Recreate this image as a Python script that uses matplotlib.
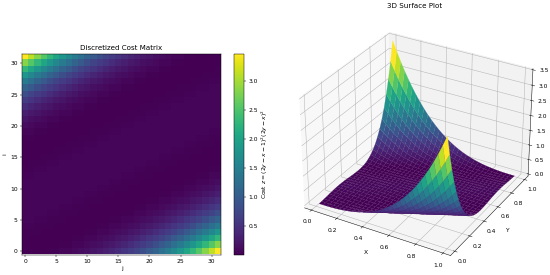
#!/usr/bin/env python3
import numpy as np
import matplotlib
matplotlib.use('Agg')
import matplotlib.pyplot as plt
from mpl_toolkits.mplot3d import Axes3D  # noqa: F401

# cost matrix read cell by cell, row 0 is the bottom row of the heatmap
cost_rows = [
    [0,0,.002,.007,.015,.026,.041,.060,.084,.113,.148,.190,.239,.295,.360,.434,.517,.611,.716,.832,.962,1.105,1.262,1.434,1.622,1.827,2.050,2.292,2.553,2.835,3.139,3.466],
    [.005,.002,0,0,.002,.007,.015,.026,.041,.060,.084,.113,.148,.190,.239,.295,.360,.434,.517,.611,.716,.832,.962,1.105,1.262,1.434,1.622,1.827,2.050,2.292,2.553,2.835],
    [.015,.009,.005,.002,0,0,.002,.007,.015,.026,.041,.060,.084,.113,.148,.190,.239,.295,.360,.434,.517,.611,.716,.832,.962,1.105,1.262,1.434,1.622,1.827,2.050,2.292],
    [.026,.020,.015,.009,.005,.002,0,0,.002,.007,.015,.026,.041,.060,.084,.113,.148,.190,.239,.295,.360,.434,.517,.611,.716,.832,.962,1.105,1.262,1.434,1.622,1.827],
    [.038,.032,.026,.020,.015,.009,.005,.002,0,0,.002,.007,.015,.026,.041,.060,.084,.113,.148,.190,.239,.295,.360,.434,.517,.611,.716,.832,.962,1.105,1.262,1.434],
    [.049,.044,.038,.032,.026,.020,.015,.009,.005,.002,0,0,.002,.007,.015,.026,.041,.060,.084,.113,.148,.190,.239,.295,.360,.434,.517,.611,.716,.832,.962,1.105],
    [.057,.053,.049,.044,.038,.032,.026,.020,.015,.009,.005,.002,0,0,.002,.007,.015,.026,.041,.060,.084,.113,.148,.190,.239,.295,.360,.434,.517,.611,.716,.832],
    [.061,.059,.057,.053,.049,.044,.038,.032,.026,.020,.015,.009,.005,.002,0,0,.002,.007,.015,.026,.041,.060,.084,.113,.148,.190,.239,.295,.360,.434,.517,.611],
    [.062,.062,.061,.059,.057,.053,.049,.044,.038,.032,.026,.020,.015,.009,.005,.002,0,0,.002,.007,.015,.026,.041,.060,.084,.113,.148,.190,.239,.295,.360,.434],
    [.059,.061,.062,.062,.061,.059,.057,.053,.049,.044,.038,.032,.026,.020,.015,.009,.005,.002,0,0,.002,.007,.015,.026,.041,.060,.084,.113,.148,.190,.239,.295],
    [.053,.057,.059,.061,.062,.062,.061,.059,.057,.053,.049,.044,.038,.032,.026,.020,.015,.009,.005,.002,0,0,.002,.007,.015,.026,.041,.060,.084,.113,.148,.190],
    [.044,.049,.053,.057,.059,.061,.062,.062,.061,.059,.057,.053,.049,.044,.038,.032,.026,.020,.015,.009,.005,.002,0,0,.002,.007,.015,.026,.041,.060,.084,.113],
    [.032,.038,.044,.049,.053,.057,.059,.061,.062,.062,.061,.059,.057,.053,.049,.044,.038,.032,.026,.020,.015,.009,.005,.002,0,0,.002,.007,.015,.026,.041,.060],
    [.020,.026,.032,.038,.044,.049,.053,.057,.059,.061,.062,.062,.061,.059,.057,.053,.049,.044,.038,.032,.026,.020,.015,.009,.005,.002,0,0,.002,.007,.015,.026],
    [.009,.015,.020,.026,.032,.038,.044,.049,.053,.057,.059,.061,.062,.062,.061,.059,.057,.053,.049,.044,.038,.032,.026,.020,.015,.009,.005,.002,0,0,.002,.007],
    [.002,.005,.009,.015,.020,.026,.032,.038,.044,.049,.053,.057,.059,.061,.062,.062,.061,.059,.057,.053,.049,.044,.038,.032,.026,.020,.015,.009,.005,.002,0,0],
    [0,0,.002,.005,.009,.015,.020,.026,.032,.038,.044,.049,.053,.057,.059,.061,.062,.062,.061,.059,.057,.053,.049,.044,.038,.032,.026,.020,.015,.009,.005,.002],
    [.007,.002,0,0,.002,.005,.009,.015,.020,.026,.032,.038,.044,.049,.053,.057,.059,.061,.062,.062,.061,.059,.057,.053,.049,.044,.038,.032,.026,.020,.015,.009],
    [.026,.015,.007,.002,0,0,.002,.005,.009,.015,.020,.026,.032,.038,.044,.049,.053,.057,.059,.061,.062,.062,.061,.059,.057,.053,.049,.044,.038,.032,.026,.020],
    [.060,.041,.026,.015,.007,.002,0,0,.002,.005,.009,.015,.020,.026,.032,.038,.044,.049,.053,.057,.059,.061,.062,.062,.061,.059,.057,.053,.049,.044,.038,.032],
    [.113,.084,.060,.041,.026,.015,.007,.002,0,0,.002,.005,.009,.015,.020,.026,.032,.038,.044,.049,.053,.057,.059,.061,.062,.062,.061,.059,.057,.053,.049,.044],
    [.190,.148,.113,.084,.060,.041,.026,.015,.007,.002,0,0,.002,.005,.009,.015,.020,.026,.032,.038,.044,.049,.053,.057,.059,.061,.062,.062,.061,.059,.057,.053],
    [.295,.239,.190,.148,.113,.084,.060,.041,.026,.015,.007,.002,0,0,.002,.005,.009,.015,.020,.026,.032,.038,.044,.049,.053,.057,.059,.061,.062,.062,.061,.059],
    [.434,.360,.295,.239,.190,.148,.113,.084,.060,.041,.026,.015,.007,.002,0,0,.002,.005,.009,.015,.020,.026,.032,.038,.044,.049,.053,.057,.059,.061,.062,.062],
    [.611,.517,.434,.360,.295,.239,.190,.148,.113,.084,.060,.041,.026,.015,.007,.002,0,0,.002,.005,.009,.015,.020,.026,.032,.038,.044,.049,.053,.057,.059,.061],
    [.832,.716,.611,.517,.434,.360,.295,.239,.190,.148,.113,.084,.060,.041,.026,.015,.007,.002,0,0,.002,.005,.009,.015,.020,.026,.032,.038,.044,.049,.053,.057],
    [1.105,.962,.832,.716,.611,.517,.434,.360,.295,.239,.190,.148,.113,.084,.060,.041,.026,.015,.007,.002,0,0,.002,.005,.009,.015,.020,.026,.032,.038,.044,.049],
    [1.434,1.262,1.105,.962,.832,.716,.611,.517,.434,.360,.295,.239,.190,.148,.113,.084,.060,.041,.026,.015,.007,.002,0,0,.002,.005,.009,.015,.020,.026,.032,.038],
    [1.827,1.622,1.434,1.262,1.105,.962,.832,.716,.611,.517,.434,.360,.295,.239,.190,.148,.113,.084,.060,.041,.026,.015,.007,.002,0,0,.002,.005,.009,.015,.020,.026],
    [2.292,2.050,1.827,1.622,1.434,1.262,1.105,.962,.832,.716,.611,.517,.434,.360,.295,.239,.190,.148,.113,.084,.060,.041,.026,.015,.007,.002,0,0,.002,.005,.009,.015],
    [2.835,2.553,2.292,2.050,1.827,1.622,1.434,1.262,1.105,.962,.832,.716,.611,.517,.434,.360,.295,.239,.190,.148,.113,.084,.060,.041,.026,.015,.007,.002,0,0,.002,.005],
    [3.466,3.139,2.835,2.553,2.292,2.050,1.827,1.622,1.434,1.262,1.105,.962,.832,.716,.611,.517,.434,.360,.295,.239,.190,.148,.113,.084,.060,.041,.026,.015,.007,.002,0,0],
]
heat_xticks = [0, 5, 10, 15, 20, 25, 30]
heat_yticks = [0, 5, 10, 15, 20, 25, 30]
cbar_ticks = [0.5, 1.0, 1.5, 2.0, 2.5, 3.0]
surf_ticks = [0.0, 0.2, 0.4, 0.6, 0.8, 1.0]
z_ticks = [0.0, 0.5, 1.0, 1.5, 2.0, 2.5, 3.0, 3.5]

Z = np.array(cost_rows)
n = Z.shape[0]
grid = (np.arange(n) + 0.5) / n
X, Y = np.meshgrid(grid, grid)

W, H = 550, 275
DPI = 43
fig = plt.figure(figsize=(W / DPI, H / DPI), dpi=DPI)

# heatmap, positions measured in pixels
ax = fig.add_axes([22 / W, 1 - 254.5 / H, 199 / W, 200.5 / H])
im = ax.imshow(Z, origin='lower', cmap='viridis', aspect='auto')
ax.set_xticks(heat_xticks)
ax.set_yticks(heat_yticks)
ax.set_xlabel('j')
ax.set_ylabel('i')
ax.set_title('Discretized Cost Matrix')

cax = fig.add_axes([234 / W, 1 - 254.5 / H, 10 / W, 200.5 / H])
cb = fig.colorbar(im, cax=cax, ticks=cbar_ticks)
cb.set_label(r'Cost $z = (2y - x - 1)^2(2y - x)^2$')

# surface
ax3 = fig.add_axes([0.5178, 0.0111, 0.473, 0.945], projection='3d')
surf = ax3.plot_surface(X, Y, Z, cmap='viridis')
surf.set_edgecolor('face')
surf.set_linewidth(0.3)
ax3.set_xticks(surf_ticks)
ax3.set_yticks(surf_ticks)
ax3.set_zticks(z_ticks)
ax3.set_xlabel('X')
ax3.set_ylabel('Y')
ax3.set_title('3D Surface Plot')

fig.savefig('out.png', dpi=DPI)
